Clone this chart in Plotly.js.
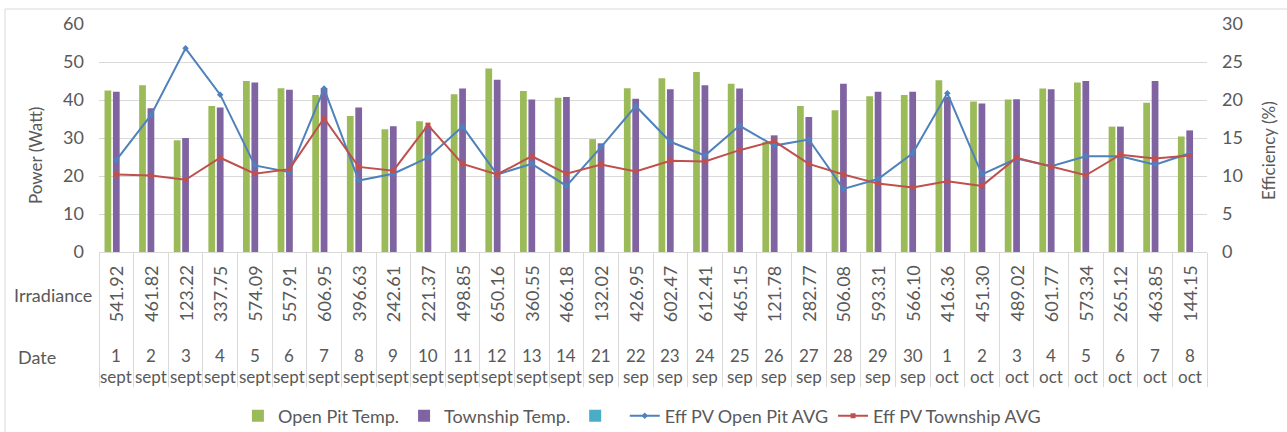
<!DOCTYPE html>
<html>
<head>
<meta charset="utf-8">
<script src="https://cdn.plot.ly/plotly-3.0.1.min.js"></script>
<style>
html,body{margin:0;padding:0;background:#fff;}
#chart{width:1287px;height:432px;}
</style>
</head>
<body>
<div id="chart"></div>
<script>
// ---- data ----
const dates = ["1 sept","2 sept","3 sept","4 sept","5 sept","6 sept","7 sept","8 sept","9 sept","10 sept",
  "11 sept","12 sept","13 sept","14 sept","21 sep","22 sep","23 sep","24 sep","25 sep","26 sep",
  "27 sep","28 sep","29 sep","30 sep","1 oct","2 oct","3 oct","4 oct","5 oct","6 oct","7 oct","8 oct"];
const irradiance = ["541.92","461.82","123.22","337.75","574.09","557.91","606.95","396.63","242.61","221.37",
  "498.85","650.16","360.55","466.18","132.02","426.95","602.47","612.41","465.15","121.78",
  "282.77","506.08","593.31","566.10","416.36","451.30","489.02","601.77","573.34","265.12","463.85","144.15"];
const openPitTemp = [42.5,43.9,29.4,38.4,45.0,43.1,41.3,35.8,32.3,34.4,
  41.5,48.3,42.4,40.6,29.7,43.1,45.7,47.4,44.3,29.0,
  38.4,37.3,41.0,41.3,45.2,39.6,40.1,43.0,44.6,33.0,39.3,30.4];
const townshipTemp = [42.2,37.8,30.0,38.0,44.6,42.7,43.1,38.0,33.1,33.1,
  43.0,45.3,40.1,40.8,28.6,40.3,42.8,43.9,43.0,30.7,
  35.5,44.3,42.2,42.2,40.8,39.1,40.2,42.8,45.0,33.0,45.0,32.0];
const emptySeries = dates.map(() => null);
const effOpenPit = [12.1,18.0,26.8,20.7,11.4,10.5,21.5,9.4,10.3,12.4,
  16.5,10.2,11.6,8.7,13.8,19.2,14.5,12.7,16.6,14.0,
  14.8,8.3,9.6,13.0,20.9,10.2,12.3,11.3,12.6,12.6,11.5,13.0];
const effTownship = [10.2,10.05,9.5,12.4,10.3,10.9,17.6,11.2,10.7,16.7,
  11.6,10.2,12.6,10.3,11.5,10.6,12.0,11.9,13.4,14.6,
  11.6,10.2,9.0,8.5,9.3,8.7,12.4,11.2,10.1,12.8,12.3,12.7];
const seriesNames = ["Open Pit Temp.","Township Temp."," ","Eff PV Open Pit AVG","Eff PV Township AVG"];

// ---- style ----
const FONT = "Lato, 'Open Sans', sans-serif";
const TXT = "#595959";
const GRID = "#D9D9D9";

const traces = [
  {type:"bar", x:dates, y:openPitTemp, name:seriesNames[0], marker:{color:"#9BBB59"}, yaxis:"y"},
  {type:"bar", x:dates, y:townshipTemp, name:seriesNames[1], marker:{color:"#8064A2"}, yaxis:"y"},
  {type:"bar", x:dates, y:emptySeries, name:seriesNames[2], marker:{color:"#4BACC6"}, yaxis:"y"},
  {type:"scatter", mode:"lines+markers", x:dates, y:effOpenPit, name:seriesNames[3], yaxis:"y2",
   line:{color:"#4F81BD", width:2}, marker:{color:"#4F81BD", size:5, symbol:"diamond"}},
  {type:"scatter", mode:"lines+markers", x:dates, y:effTownship, name:seriesNames[4], yaxis:"y2",
   line:{color:"#C0504D", width:2}, marker:{color:"#C0504D", size:5, symbol:"square"}}
];

// plot area: x 99..1207, y 24..252 (px)
const py = v => (252 - v) / 228;
const px = v => (v - 99) / 1108;

const annotations = [];
const tf = {family:FONT, size:18, color:TXT};
const tfd = {family:FONT, size:17, color:TXT};
dates.forEach((d, i) => {
  const parts = d.split(" ");
  annotations.push({xref:"x", yref:"paper", x:d, y:py(294), xanchor:"center", yanchor:"middle",
    text:irradiance[i], textangle:-90, showarrow:false, font:tf});
  annotations.push({xref:"x", yref:"paper", x:d, y:py(355), xanchor:"center", yanchor:"middle",
    text:parts[0], showarrow:false, font:tfd});
  annotations.push({xref:"x", yref:"paper", x:d, y:py(376), xanchor:"center", yanchor:"middle",
    text:parts[1], showarrow:false, font:tfd});
});
annotations.push({xref:"paper", yref:"paper", x:px(12), y:py(295), xanchor:"left", yanchor:"middle",
  text:"Irradiance", showarrow:false, font:tf});
annotations.push({xref:"paper", yref:"paper", x:px(16), y:py(357), xanchor:"left", yanchor:"middle",
  text:"Date", showarrow:false, font:tf});
annotations.push({xref:"paper", yref:"paper", x:px(35), y:py(156), xanchor:"center", yanchor:"middle",
  text:"Power (Watt)", textangle:-90, showarrow:false, font:{family:FONT, size:17, color:TXT}});
annotations.push({xref:"paper", yref:"paper", x:px(1268), y:py(150), xanchor:"center", yanchor:"middle",
  text:"Efficiency (%)", textangle:-90, showarrow:false, font:{family:FONT, size:17, color:TXT}});

const layout = {
  width:1287, height:432,
  margin:{l:99, r:80, t:24, b:180, autoexpand:false},
  paper_bgcolor:"#fff", plot_bgcolor:"#fff",
  font:{family:FONT, color:TXT, size:17},
  barmode:"group", bargap:0.27, bargroupgap:0.2,
  showlegend:true,
  legend:{orientation:"h", xref:"paper", x:0.49, xanchor:"center", yref:"container", y:(432-416)/432,
    yanchor:"middle", font:{family:FONT, size:18, color:TXT}, traceorder:"normal", itemwidth:30},
  xaxis:{type:"category", range:[-0.5, 31.5], showticklabels:false, ticks:"outside",
    tickson:"boundaries", ticklen:134, tickcolor:GRID, tickwidth:1,
    showline:true, linecolor:GRID, linewidth:1, showgrid:false, zeroline:false, fixedrange:true},
  yaxis:{range:[0,60], dtick:10, showgrid:true, gridcolor:GRID, gridwidth:1, zeroline:false,
    showline:false, ticks:"", ticklabelstandoff:14, tickfont:{family:FONT, size:18, color:TXT}},
  yaxis2:{range:[0,30], dtick:5, overlaying:"y", side:"right", showgrid:false, zeroline:false,
    showline:false, ticks:"", ticklabelstandoff:14, tickfont:{family:FONT, size:18, color:TXT}},
  annotations:annotations,
  shapes:[{type:"rect", xref:"paper", yref:"paper", x0:px(5), x1:px(1300),
    y0:py(445), y1:py(9), line:{color:GRID, width:1}, fillcolor:"rgba(0,0,0,0)", layer:"below"}]
};

Plotly.newPlot("chart", traces, layout, {displayModeBar:false, staticPlot:true});
</script>
</body>
</html>
